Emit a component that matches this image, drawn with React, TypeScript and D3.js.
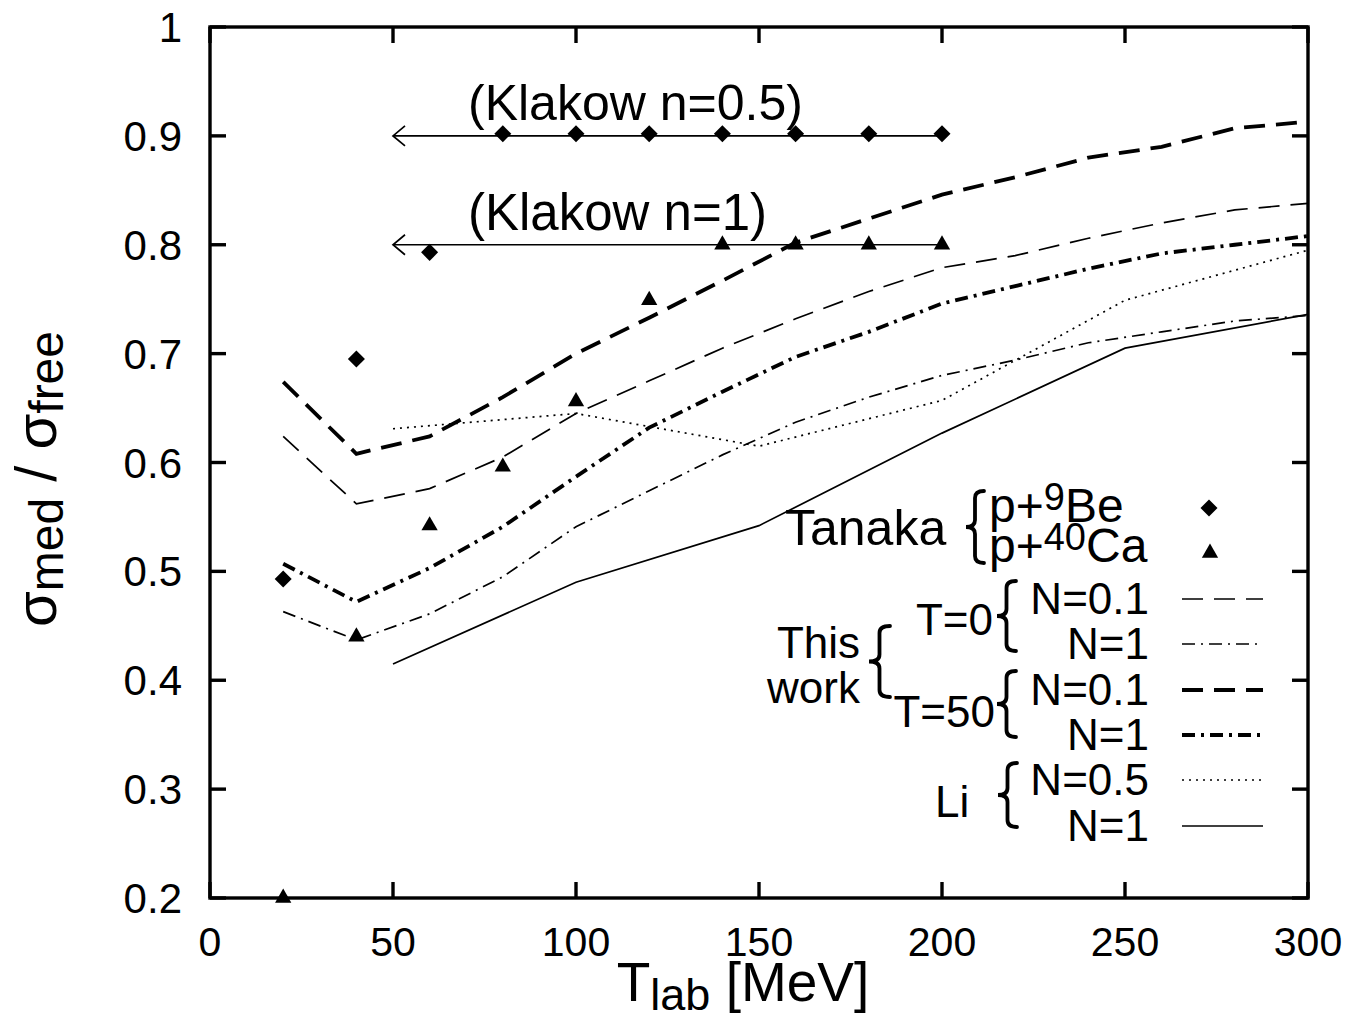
import React from "react";
import * as d3 from "d3";

const W = 1361;
const H = 1015;

// ---- data ----
const energies = [20, 40, 60, 80, 100, 120, 140, 160, 180, 200, 220, 240, 260, 280, 300];
const t0N01 = [0.624, 0.562, 0.576, 0.605, 0.645, 0.675, 0.705, 0.732, 0.757, 0.779, 0.79, 0.806, 0.82, 0.832, 0.838];
const t0N1 = [0.463, 0.437, 0.461, 0.495, 0.541, 0.574, 0.607, 0.637, 0.66, 0.68, 0.694, 0.71, 0.72, 0.73, 0.735];
const t50N01 = [0.674, 0.608, 0.624, 0.66, 0.70, 0.733, 0.767, 0.802, 0.824, 0.846, 0.862, 0.88, 0.89, 0.907, 0.913];
const t50N1 = [0.507, 0.472, 0.503, 0.541, 0.587, 0.632, 0.665, 0.697, 0.72, 0.746, 0.762, 0.778, 0.792, 0.80, 0.808];

const liEnergies = [50, 100, 150, 200, 250, 300];
const liN05 = [0.631, 0.645, 0.615, 0.657, 0.749, 0.795];
const liN1 = [0.415, 0.49, 0.542, 0.627, 0.705, 0.736];

const tanakaBeE = [20, 40, 60];
const tanakaBeV = [0.493, 0.695, 0.793];
const tanakaCaE = [20, 40, 60, 80, 100, 120];
const tanakaCaV = [0.2, 0.44, 0.542, 0.596, 0.656, 0.749];

const klakow05E = [80, 100, 120, 140, 160, 180, 200];
const klakow05V = 0.902;
const klakow1E = [140, 160, 180, 200];
const klakow1V = 0.8;
const klakowRange = [50, 200];

const xTicks = [0, 50, 100, 150, 200, 250, 300];
const yTicks = [0.2, 0.3, 0.4, 0.5, 0.6, 0.7, 0.8, 0.9, 1];

const FONT = "'Liberation Sans', Arial, Helvetica, sans-serif";

const x = d3.scaleLinear().domain([0, 300]).range([210, 1308]);
const y = d3.scaleLinear().domain([0.2, 1]).range([898, 27]);

const line = d3
  .line<[number, number]>()
  .x((d) => x(d[0]))
  .y((d) => y(d[1]));

const zip = (a: number[], b: number[]) => a.map((v, i) => [v, b[i]] as [number, number]);

const styles = {
  t0N01: { w: 1.7, dash: "21,11" },
  t0N1: { w: 1.7, dash: "13,6,2,6" },
  t50N01: { w: 3.8, dash: "21,11" },
  t50N1: { w: 3.8, dash: "13,6,3,6" },
  liN05: { w: 1.7, dash: "2,5" },
  liN1: { w: 1.7, dash: "" },
};

const diamond = d3.symbol().type(d3.symbolDiamond2).size(185)();
const triangle = d3.symbol().type(d3.symbolTriangle).size(115)();

function Brace({ x0, x1, y0, y1 }: { x0: number; x1: number; y0: number; y1: number }) {
  const xm = (x0 + x1) / 2;
  const mid = (y0 + y1) / 2;
  const r = 7;
  const d = `M${x1},${y0} Q${xm},${y0} ${xm},${y0 + r} L${xm},${mid - r} Q${xm},${mid} ${x0},${mid} Q${xm},${mid} ${xm},${mid + r} L${xm},${y1 - r} Q${xm},${y1} ${x1},${y1}`;
  return <path d={d} fill="none" stroke="#000" strokeWidth={3.8} strokeLinecap="round" />;
}

export default function App() {
  const frame = { l: x(0), r: x(300), t: y(1), b: y(0.2) };
  const tickLen = 16;
  const sampleX0 = 1182;
  const sampleX1 = 1263;
  const legendRows: { key: keyof typeof styles; ly: number }[] = [
    { key: "t0N01", ly: 599 },
    { key: "t0N1", ly: 644 },
    { key: "t50N01", ly: 690 },
    { key: "t50N1", ly: 735 },
    { key: "liN05", ly: 780 },
    { key: "liN1", ly: 826 },
  ];
  const series: { key: keyof typeof styles; e: number[]; v: number[] }[] = [
    { key: "liN1", e: liEnergies, v: liN1 },
    { key: "liN05", e: liEnergies, v: liN05 },
    { key: "t0N1", e: energies, v: t0N1 },
    { key: "t0N01", e: energies, v: t0N01 },
    { key: "t50N1", e: energies, v: t50N1 },
    { key: "t50N01", e: energies, v: t50N01 },
  ];

  const arrow = (v: number) => {
    const ax = x(klakowRange[0]);
    const ay = y(v);
    return (
      <g>
        <line x1={ax} y1={ay} x2={x(klakowRange[1])} y2={ay} stroke="#000" strokeWidth={1.7} />
        <path d={`M${ax + 12},${ay - 10} L${ax},${ay} L${ax + 12},${ay + 10}`} fill="none" stroke="#000" strokeWidth={1.7} />
      </g>
    );
  };

  return (
    <svg
      width={W}
      height={H}
      style={{ position: "absolute", left: 0, top: 0, background: "#fff" }}
      fontFamily={FONT}
    >
      <rect x={0} y={0} width={W} height={H} fill="#fff" />

      {/* series */}
      {series.map((s) => (
        <path
          key={s.key}
          d={line(zip(s.e, s.v)) || ""}
          fill="none"
          stroke="#000"
          strokeWidth={styles[s.key].w}
          strokeDasharray={styles[s.key].dash || undefined}
        />
      ))}

      {/* Klakow lines */}
      {arrow(0.9)}
      {arrow(klakow1V)}
      <text x={468} y={120} fontSize={50}>(Klakow n=0.5)</text>
      <text x={468} y={230} fontSize={51}>(Klakow n=1)</text>

      {/* markers */}
      {tanakaBeE.map((e, i) => (
        <path key={"be" + i} d={diamond || ""} transform={`translate(${x(e)},${y(tanakaBeV[i])})`} fill="#000" />
      ))}
      {klakow05E.map((e, i) => (
        <path key={"k5" + i} d={diamond || ""} transform={`translate(${x(e)},${y(klakow05V)})`} fill="#000" />
      ))}
      {tanakaCaE.map((e, i) => (
        <path key={"ca" + i} d={triangle || ""} transform={`translate(${x(e)},${y(tanakaCaV[i])})`} fill="#000" />
      ))}
      {klakow1E.map((e, i) => (
        <path key={"k1" + i} d={triangle || ""} transform={`translate(${x(e)},${y(klakow1V)})`} fill="#000" />
      ))}

      {/* frame */}
      <rect
        x={frame.l}
        y={frame.t}
        width={frame.r - frame.l}
        height={frame.b - frame.t}
        fill="none"
        stroke="#000"
        strokeWidth={3.4}
      />
      {xTicks.map((t) => (
        <g key={"xt" + t}>
          <line x1={x(t)} x2={x(t)} y1={frame.b} y2={frame.b - tickLen} stroke="#000" strokeWidth={3.4} />
          <line x1={x(t)} x2={x(t)} y1={frame.t} y2={frame.t + tickLen} stroke="#000" strokeWidth={3.4} />
          <text x={x(t)} y={956} fontSize={41} textAnchor="middle">
            {t}
          </text>
        </g>
      ))}
      {yTicks.map((t) => (
        <g key={"yt" + t}>
          <line x1={frame.l} x2={frame.l + tickLen} y1={y(t)} y2={y(t)} stroke="#000" strokeWidth={3.4} />
          <line x1={frame.r} x2={frame.r - tickLen} y1={y(t)} y2={y(t)} stroke="#000" strokeWidth={3.4} />
          <text x={182} y={y(t) + 15} fontSize={42} textAnchor="end">
            {d3.format("~g")(t)}
          </text>
        </g>
      ))}

      {/* axis labels */}
      <text x={743} y={1001} fontSize={55} textAnchor="middle">
        T<tspan fontSize={45} dy={9}>lab</tspan>
        <tspan dy={-9}> [MeV]</tspan>
      </text>
      <text transform="translate(56,479) rotate(-90)" fontSize={58} textAnchor="middle">
        σ<tspan fontSize={48} dy={7}>med</tspan>
        <tspan dy={-7}> / σ</tspan>
        <tspan fontSize={48} dy={7}>free</tspan>
      </text>

      {/* legend */}
      <text x={785} y={545} fontSize={50}>Tanaka</text>
      <Brace x0={966} x1={984} y0={491} y1={563} />
      <text x={989} y={522} fontSize={48}>
        p+<tspan fontSize={38} dy={-12}>9</tspan>
        <tspan dy={12}>Be</tspan>
      </text>
      <text x={989} y={562} fontSize={48}>
        p+<tspan fontSize={38} dy={-12}>40</tspan>
        <tspan dy={12}>Ca</tspan>
      </text>
      <path d={diamond || ""} transform="translate(1209,508)" fill="#000" />
      <path d={triangle || ""} transform="translate(1210,553)" fill="#000" />

      <text x={860} y={658} fontSize={44} textAnchor="end">This</text>
      <text x={860} y={703} fontSize={44} textAnchor="end">work</text>
      <Brace x0={869} x1={890} y0={626} y1={697} />
      <text x={993} y={635} fontSize={44} textAnchor="end">T=0</text>
      <text x={995} y={727} fontSize={44} textAnchor="end">T=50</text>
      <Brace x0={997} x1={1016} y0={581} y1={651} />
      <Brace x0={997} x1={1016} y0={671} y1={737} />
      <text x={935} y={817} fontSize={44}>Li</text>
      <Brace x0={998} x1={1017} y0={763} y1={827} />

      {["N=0.1", "N=1", "N=0.1", "N=1", "N=0.5", "N=1"].map((lab, i) => (
        <text key={"nl" + i} x={1149} y={legendRows[i].ly + 15} fontSize={44} textAnchor="end">
          {lab}
        </text>
      ))}
      {legendRows.map((r) => (
        <line
          key={"ls" + r.key}
          x1={sampleX0}
          x2={sampleX1}
          y1={r.ly}
          y2={r.ly}
          stroke="#000"
          strokeWidth={styles[r.key].w}
          strokeDasharray={styles[r.key].dash || undefined}
        />
      ))}
    </svg>
  );
}
